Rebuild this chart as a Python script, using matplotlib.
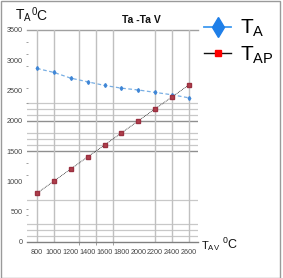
import matplotlib
matplotlib.use("Agg")
import matplotlib.pyplot as plt
from matplotlib.lines import Line2D
from matplotlib.patches import Rectangle

plt.rcParams['font.family'] = ['Liberation Sans Narrow', 'Liberation Sans', 'DejaVu Sans']

# ---- data ----
ta_w = [800, 1000, 1200, 1400, 1600, 1800, 2000, 2200, 2400, 2600]
ta = [2865, 2800, 2705, 2645, 2585, 2540, 2510, 2470, 2430, 2380]
ta_p = [805, 1005, 1205, 1405, 1600, 1800, 2000, 2200, 2395, 2595]
x_ticks = [800, 1000, 1200, 1400, 1600, 1800, 2000, 2200, 2400, 2600]
y_ticks = [0, 500, 1000, 1500, 2000, 2500, 3000, 3500]
title = "Ta -Ta V"

# styling: gridline positions visible in the reference
h_grid_light = [2300, 2200, 2100, 1800, 1700, 1600, 700, 300, 200, 100]
h_grid_dark = [2000, 1500]
v_grid = [800, 1000, 1300, 1500, 1700, 2200, 2400, 2600]
y_minor = [3300, 3100, 2900, 2550, 2300, 1300, 1100, 550, 450]

W, H = 283, 278
fig = plt.figure(figsize=(W / 100, H / 100), dpi=100)
ax = fig.add_axes([27 / W, (H - 242) / H, 171 / W, 212 / H])

ax.set_xlim(682, 2707)
ax.set_ylim(0, 3500)

for v in h_grid_light:
    ax.axhline(v, color='#c8c8c8', lw=0.9, zorder=1)
for v in h_grid_dark:
    ax.axhline(v, color='#8f8f8f', lw=1.0, zorder=1)
ax.axhline(3500, color='#a0a0a0', lw=1.0, zorder=1, clip_on=False)
for v in v_grid:
    ax.axvline(v, color='#c0c0c0', lw=1.0, zorder=1)

ax.plot(ta_w, ta, color='#78aee3', lw=0.9, ls=(0, (3, 2)), marker='d',
        markersize=2.0, markerfacecolor='#3f86d6', markeredgecolor='#3f86d6', zorder=3)
ax.plot(ta_w, ta_p, color='#222222', lw=0.6, ls=(0, (1, 1)), marker='s',
        markersize=2.2, markerfacecolor='#b0404c', markeredgecolor='#9a3040', zorder=3)

for s in ['top', 'right', 'left']:
    ax.spines[s].set_visible(False)
ax.spines['bottom'].set_color('#808080')
ax.spines['bottom'].set_linewidth(1.0)

ax.set_xticks(x_ticks)
ax.set_xticklabels([str(v) for v in x_ticks])
ax.set_yticks(y_ticks)
ax.set_yticklabels([str(v) for v in y_ticks])
ax.set_xticks(v_grid, minor=True)
ax.set_yticks(y_minor, minor=True)
ax.tick_params(axis='both', which='major', length=0, labelsize=5.2, colors='#444444')
ax.tick_params(axis='x', which='major', pad=5)
ax.tick_params(axis='y', which='major', pad=3)
ax.tick_params(axis='x', which='minor', length=2.5, color='#909090', direction='out')
ax.tick_params(axis='y', which='minor', length=1.5, color='#909090', direction='inout')

# title and axis labels
fig.text(141 / W, 1 - 20 / H, title, ha='center', va='center', fontsize=7.5,
         fontweight='bold', color='#111111')
fig.text(15 / W, 1 - 16 / H, r'$\mathregular{T_A}$', ha='left', va='center',
         fontsize=10, color='#111111')
fig.text(31 / W, 1 - 15 / H, r'$\mathregular{^0C}$', ha='left', va='center',
         fontsize=10, color='#111111')
fig.text(201 / W, 1 - 246 / H, r'$\mathregular{T_{AV}}$', ha='left', va='center',
         fontsize=8, color='#111111')
fig.text(222 / W, 1 - 244 / H, r'$\mathregular{^0C}$', ha='left', va='center',
         fontsize=9, color='#111111')

# legend
handles = [
    Line2D([], [], color='#3f9af0', lw=1.3, marker='d', markersize=10,
           markerfacecolor='#1f7fe8', markeredgecolor='#1f7fe8'),
    Line2D([], [], color='#111111', lw=1.0, marker='s', markersize=5,
           markerfacecolor='#ff0000', markeredgecolor='#ff0000'),
]
fig.legend(handles, [r'$\mathregular{T_A}$', r'$\mathregular{T_{AP}}$'],
           loc='upper left', bbox_to_anchor=(204 / W, 1 - 18 / H),
           frameon=False, fontsize=15, handlelength=1.3, handletextpad=0.45,
           labelspacing=0.25, borderaxespad=0, borderpad=0)

# outer frame
fig.patches.append(Rectangle((1 / W, 0), 278.5 / W, 1 - 0.5 / H, transform=fig.transFigure,
                             fill=False, edgecolor='#9a9a9a', lw=1.0))

fig.savefig('out.png', dpi=100)
